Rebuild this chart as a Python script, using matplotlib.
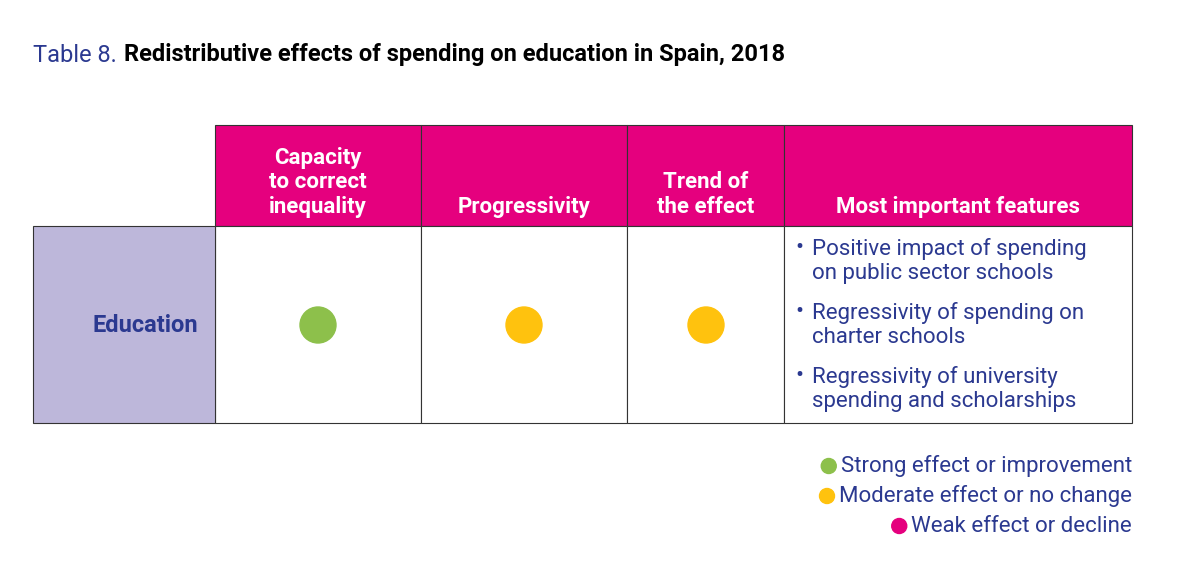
import matplotlib.pyplot as plt
from matplotlib.patches import Rectangle, Circle

NAVY = '#2B3990'
MAGENTA = '#E5007E'
LAVENDER = '#BDB7DA'
GREEN = '#8DC04B'
YELLOW = '#FFC20E'

headers = ['Capacity\nto correct\ninequality', 'Progressivity', 'Trend of\nthe effect', 'Most important features']
row_label = 'Education'
ratings = [GREEN, YELLOW, YELLOW]
features = ['Positive impact of spending\non public sector schools',
            'Regressivity of spending on\ncharter schools',
            'Regressivity of university\nspending and scholarships']
legend_items = [('Strong effect or improvement', GREEN),
                ('Moderate effect or no change', YELLOW),
                ('Weak effect or decline', MAGENTA)]

col_x = [215, 421, 627, 784, 1132]
head_top, head_bot, body_bot = 125, 226, 423
font = 'Roboto'

fig = plt.figure(figsize=(11.99, 5.82), dpi=100)
ax = fig.add_axes([0, 0, 1, 1])
ax.set_xlim(0, 1199)
ax.set_ylim(582, 0)
ax.axis('off')

t = ax.text(33, 55, 'Table 8.', color=NAVY, fontsize=17, family=font, va='center')
fig.canvas.draw()
bb = t.get_window_extent()
ax.text(bb.x1 + 7, 55, 'Redistributive effects of spending on education in Spain, 2018',
        color='black', fontsize=17, family=font, fontweight='bold', va='center',
        transform=None if False else ax.transData) if False else None
title_x = ax.transData.inverted().transform((bb.x1 + 7, 0))[0]
ax.text(title_x, 55, 'Redistributive effects of spending on education in Spain, 2018',
        color='black', fontsize=17, family=font, fontweight='bold', va='center')

for i, h in enumerate(headers):
    x0, x1 = col_x[i], col_x[i + 1]
    ax.add_patch(Rectangle((x0, head_top), x1 - x0, head_bot - head_top,
                           facecolor=MAGENTA, edgecolor='#333333', lw=0.8))
    ax.text((x0 + x1) / 2, head_bot - 8, h, color='white', fontsize=16, family=font,
            fontweight='bold', ha='center', va='bottom', linespacing=1.15)
    ax.add_patch(Rectangle((x0, head_bot), x1 - x0, body_bot - head_bot,
                           facecolor='white', edgecolor='#333333', lw=0.8))

ax.add_patch(Rectangle((33, head_bot), col_x[0] - 33, body_bot - head_bot,
                       facecolor=LAVENDER, edgecolor='#333333', lw=0.8))
ax.text(198, 325, row_label, color=NAVY, fontsize=17, family=font,
        fontweight='bold', ha='right', va='center')

cy = 325
for i, c in enumerate(ratings):
    cx = 318 if i == 0 else (524 if i == 1 else 706)
    ax.add_patch(Circle((cx, cy), 18, color=c))

for j, f in enumerate(features):
    y = 247 + j * 64
    ax.text(795, y, '•', color=NAVY, fontsize=17, family=font, va='center')
    ax.text(812, y + 14, f, color=NAVY, fontsize=16, family=font,
            va='center', linespacing=1.2)

for j, (lab, c) in enumerate(legend_items):
    y = 466 + j * 30
    t = ax.text(1132, y, lab, color=NAVY, fontsize=16, family=font, ha='right', va='center')
    fig.canvas.draw()
    bb = t.get_window_extent()
    lx = ax.transData.inverted().transform((bb.x0, 0))[0]
    ax.add_patch(Circle((lx - 12, y), 7.5, color=c))

fig.savefig('out.png', dpi=100)
